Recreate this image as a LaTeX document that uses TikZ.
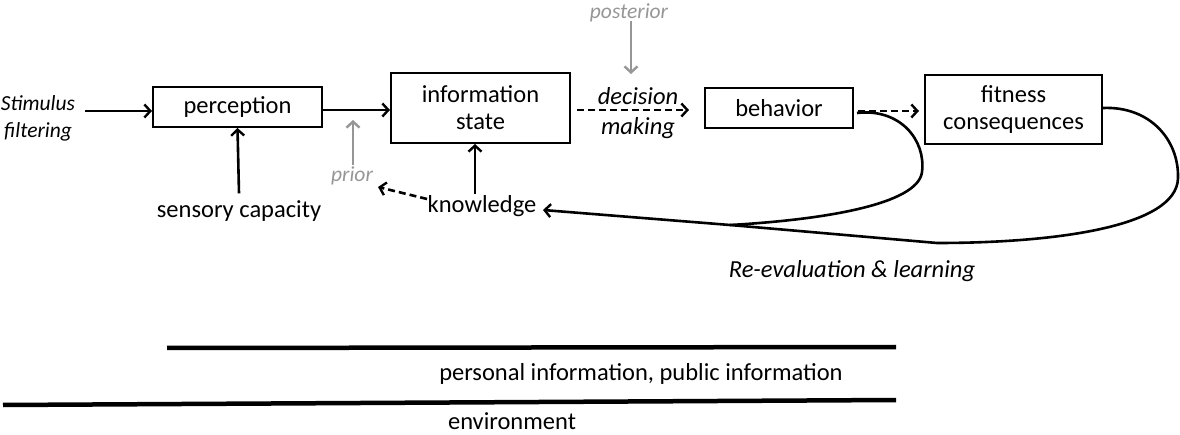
\documentclass[tikz,border=0pt]{standalone}
\usepackage{fontspec}
\setmainfont{Carlito}
\usetikzlibrary{arrows.meta,calc}
\definecolor{lblgray}{RGB}{150,150,150}
\begin{document}
\begin{tikzpicture}[x=1pt,y=-1pt,
  every node/.style={font=\fontsize{24.5}{29}\selectfont, inner sep=0pt},
  box/.style={draw, line width=2pt, minimum width=#1, align=center},
  lbl/.style={align=center},
  ilbl/.style={align=center, font=\fontsize{24.5}{30}\selectfont\itshape},
  glbl/.style={font=\fontsize{21.5}{25}\selectfont\itshape, text=lblgray},
  conn/.style={line width=2.6pt, -{Straight Barb[length=6pt,width=13pt,line width=2.4pt]}},
  gconn/.style={conn, draw=lblgray},
  dconn/.style={conn, dash pattern=on 7pt off 4pt},
  curve/.style={line width=2.6pt},
  ground/.style={line width=4.5pt}]
\useasboundingbox (0,0) rectangle (1180,435);

% boxes
\node[box=169pt, minimum height=40pt] (perc) at (237.5,107) {perception};
\node[box=179pt, minimum height=70pt] (info) at (480.5,108) {information\\[-2pt]state};
\node[box=148pt, minimum height=40pt] (beh) at (779,108) {behavior};
\node[box=177pt, minimum height=69pt] (fit) at (1013.5,109.5) {fitness\\[-2pt]consequences};

% labels
\node[ilbl, font=\fontsize{21.5}{27}\selectfont\itshape] (stim) at (38,118) {Stimulus\\filtering};
\node[lbl] (sens) at (239,211) {sensory capacity};
\node[lbl] (know) at (482,206) {knowledge};
\node[glbl] (prior) at (352,176) {prior};
\node[glbl] (post) at (629,13) {posterior};
\node[ilbl] (dec) at (638,113) {decision\\making};
\node[ilbl] (reeval) at (852,271) {Re-evaluation \& learning};
\node[lbl] (pers) at (641,374) {personal information, public information};
\node[lbl] (env) at (512,421) {environment};

% coordinates
\coordinate (stimS) at (85,111);
\coordinate (kup) at (475,194);
\coordinate (priortip) at (353,120);
\coordinate (kdash) at (427,199);
\coordinate (kdtip) at (378,187);
\coordinate (posttip) at (631,74);
\coordinate (decS) at (577,110);
\coordinate (decE) at (689,110);
\coordinate (bfS) at (858,111);
\coordinate (bfE) at (919,111);
\coordinate (bcS) at (857,113);
\coordinate (fcS) at (1103,108);
\coordinate (m1) at (730,225);
\coordinate (m2) at (937,243);
\coordinate (ktip) at (543,210);

% connectors
\draw[conn] (stimS) -- (stimS -| perc.west);
\draw[conn] (perc.east |- 0,110) -- (info.west |- 0,110);
\draw[conn] (sens.north) ++(0,-7) -- (perc.south);
\draw[conn] (kup) -- (kup |- info.south);
\draw[gconn] (prior.north) ++(1,-2) -- (priortip);
\draw[dconn] (kdash) -- (kdtip);
\draw[gconn] (post.south) ++(2,-1) -- (posttip);
\draw[dconn] (decS) -- (decE);
\draw[dconn] (bfS) -- (bfE);

% feedback curves
\draw[curve] (bcS) .. controls (900,108) and (926,140) .. (922,172)
  .. controls (918,205) and (820,220) .. (m1);
\draw[curve] (fcS) .. controls (1150,106) and (1179,140) .. (1178,178)
  .. controls (1177,228) and (1050,243) .. (m2);
\draw[conn] (m2) -- (m1) -- (ktip);

% ground lines
\draw[ground] (167,348) -- (896,347);
\draw[ground] (3,405) -- (896,400);
\end{tikzpicture}
\end{document}
